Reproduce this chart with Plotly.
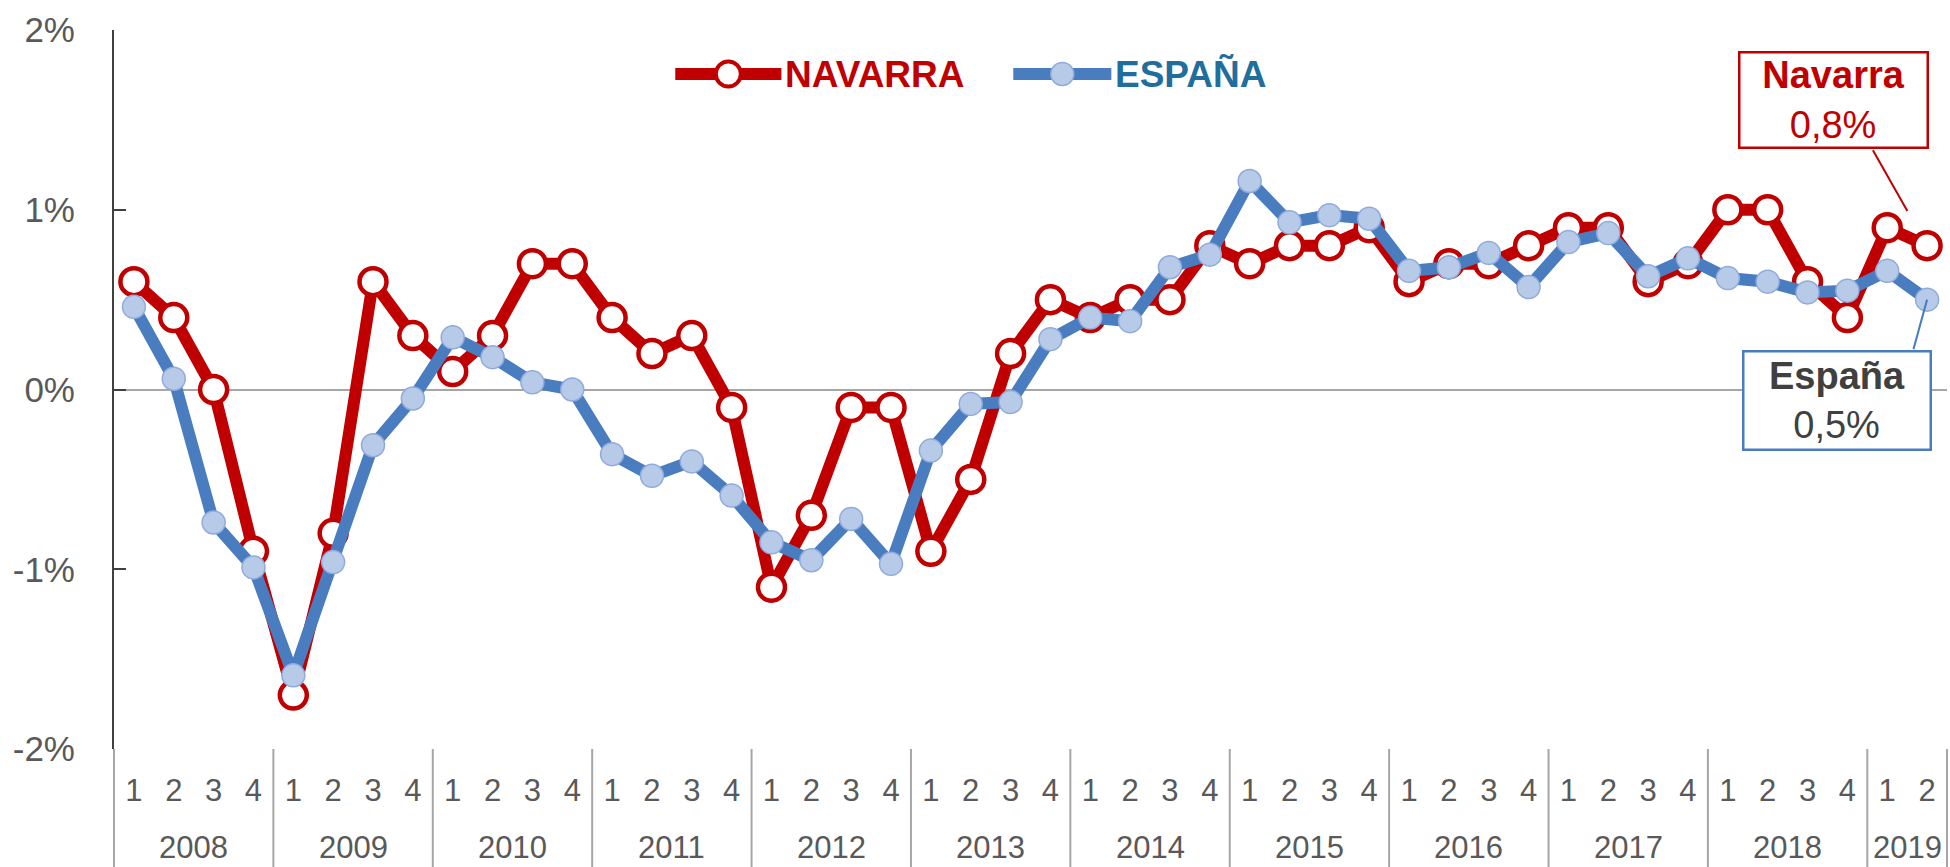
import plotly.graph_objects as go

# Quarterly GDP growth (quarter-on-quarter, %), 2008 Q1 – 2019 Q2
years = ["2008", "2009", "2010", "2011", "2012", "2013",
         "2014", "2015", "2016", "2017", "2018", "2019"]
quarters_per_year = [4, 4, 4, 4, 4, 4, 4, 4, 4, 4, 4, 2]
quarter_labels = ["1", "2", "3", "4"]

navarra = [0.6, 0.4, 0.0, -0.9,
           -1.7, -0.8, 0.6, 0.3,
           0.1, 0.3, 0.7, 0.7,
           0.4, 0.2, 0.3, -0.1,
           -1.1, -0.7, -0.1, -0.1,
           -0.9, -0.5, 0.2, 0.5,
           0.4, 0.5, 0.5, 0.8,
           0.7, 0.8, 0.8, 0.9,
           0.6, 0.7, 0.7, 0.8,
           0.9, 0.9, 0.6, 0.7,
           1.0, 1.0, 0.6, 0.4,
           0.9, 0.8]

espana = [0.46, 0.06, -0.74, -0.99,
          -1.59, -0.96, -0.31, -0.05,
          0.29, 0.18, 0.04, 0.0,
          -0.36, -0.48, -0.40, -0.59,
          -0.85, -0.95, -0.72, -0.97,
          -0.34, -0.08, -0.07, 0.28,
          0.40, 0.38, 0.68, 0.75,
          1.16, 0.93, 0.97, 0.95,
          0.66, 0.68, 0.76, 0.57,
          0.82, 0.87, 0.63, 0.73,
          0.62, 0.60, 0.54, 0.55,
          0.66, 0.50]

y_tick_values = [-2, -1, 0, 1, 2]
y_tick_labels = ["-2%", "-1%", "0%", "1%", "2%"]

series_names = ["NAVARRA", "ESPAÑA"]
box_names = ["Navarra", "España"]

# one slot per quarter; year groups are marked below the axis
x_pos = []
x_text = []
for yr, n in zip(years, quarters_per_year):
    for q in quarter_labels[:n]:
        x_pos.append(len(x_pos))
        x_text.append(q)
n_slots = len(x_pos)

RED = "#C00000"
BLUE = "#4A7DC0"
BLUE_FILL = "#B7CBE8"
BLUE_EDGE = "#8FAADC"
GRAY_TXT = "#595959"
DIVIDER = "#A6A6A6"
FONT = "Liberation Sans, Arial, sans-serif"

fig = go.Figure()

fig.add_trace(go.Scatter(
    x=x_pos, y=navarra, name=series_names[0],
    mode="lines+markers",
    line=dict(color=RED, width=12),
    marker=dict(size=27, color="white", line=dict(color=RED, width=4.5)),
    showlegend=False,
))
fig.add_trace(go.Scatter(
    x=x_pos, y=espana, name=series_names[1],
    mode="lines+markers",
    line=dict(color=BLUE, width=12),
    marker=dict(size=23, color=BLUE_FILL, line=dict(color=BLUE_EDGE, width=1.5)),
    showlegend=False,
))


def pct(v):
    return f"{v:.1f}".replace(".", ",") + "%"


last = x_pos[-1]

# callouts for the latest quarter: leader line + labelled box
callouts = [
    # values, colour, text colour, leader tail (px from point), standoff, box shift (px), box size
    (navarra, RED, RED, (-55, -97), 40, (-94, 146), (186, 93)),
    (espana, BLUE, "#404040", (-14, 51), 0, (-90, -101), (185, 96)),
]
for (vals, edge, tcol, tail, stand, shift, size), label in zip(callouts, box_names):
    fig.add_annotation(
        x=last, y=vals[-1], xref="x", yref="y", text="",
        showarrow=True, arrowhead=0, arrowwidth=2, arrowcolor=edge,
        ax=tail[0], ay=tail[1], standoff=stand,
    )
    fig.add_annotation(
        x=last, y=vals[-1], xref="x", yref="y",
        text=f"<b>{label}</b><br>{pct(vals[-1])}",
        font=dict(family=FONT, size=38, color=tcol),
        showarrow=False, xshift=shift[0], yshift=shift[1],
        xanchor="center", yanchor="middle",
        bgcolor="white", bordercolor=edge, borderwidth=2.5,
        width=size[0], height=size[1], borderpad=0, align="center",
    )

# legend drawn at the top of the plot area
legend_y = 0.9388
legend_items = [
    (series_names[0], 0.3062, 0.3641, RED, "white", RED, 4, 25, RED),
    (series_names[1], 0.4906, 0.5441, BLUE, BLUE_FILL, BLUE_EDGE, 1.5, 23, "#1F6E9E"),
]
for name, x0, x1, lc, fill, edge, ew, msize, tcolor in legend_items:
    fig.add_shape(type="line", xref="paper", yref="paper",
                  x0=x0, x1=x1, y0=legend_y, y1=legend_y,
                  line=dict(color=lc, width=12))
    xm = (x0 + x1) / 2
    fig.add_shape(type="circle", xref="paper", yref="paper",
                  xsizemode="pixel", ysizemode="pixel",
                  xanchor=xm, yanchor=legend_y,
                  x0=-msize / 2, x1=msize / 2, y0=-msize / 2, y1=msize / 2,
                  fillcolor=fill, line=dict(color=edge, width=ew))
    fig.add_annotation(x=x1 + 0.001, y=legend_y, xref="paper", yref="paper",
                       text=f"<b>{name}</b>", showarrow=False,
                       xanchor="left", yanchor="middle",
                       font=dict(family=FONT, size=37, color=tcolor))

# year labels and group dividers under the quarter labels
axis_depth = -118 / 719
year_label_y = -98 / 719
start = 0
boundaries = [-0.5]
for yr, n in zip(years, quarters_per_year):
    fig.add_annotation(x=start + (n - 1) / 2, y=year_label_y, xref="x", yref="paper",
                       text=yr, showarrow=False, xanchor="center", yanchor="middle",
                       font=dict(family=FONT, size=31, color=GRAY_TXT))
    start += n
    boundaries.append(start - 0.5)
for b in boundaries:
    xp = (b + 0.5) / n_slots
    fig.add_shape(type="line", xref="paper", yref="paper",
                  x0=xp, x1=xp, y0=0, y1=axis_depth,
                  line=dict(color=DIVIDER, width=2))

fig.update_xaxes(
    range=[-0.5, n_slots - 0.5],
    tickmode="array", tickvals=x_pos, ticktext=x_text,
    showgrid=False, showline=False, zeroline=False, ticks="",
    ticklabelstandoff=20,
    tickfont=dict(family=FONT, size=31, color=GRAY_TXT),
)
fig.update_yaxes(
    range=[-2, 2], tickvals=y_tick_values, ticktext=y_tick_labels,
    showgrid=False, zeroline=True, zerolinecolor=DIVIDER, zerolinewidth=2,
    showline=True, linecolor="#404040", linewidth=2,
    ticks="inside", ticklen=12, tickwidth=2, tickcolor="#404040",
    ticklabelstandoff=30,
    tickfont=dict(family=FONT, size=35, color=GRAY_TXT),
)

fig.update_layout(
    width=1950, height=867,
    margin=dict(l=114, r=3, t=30, b=118),
    paper_bgcolor="white", plot_bgcolor="white",
    font=dict(family=FONT),
    showlegend=False,
)

fig.write_html("out.html")
